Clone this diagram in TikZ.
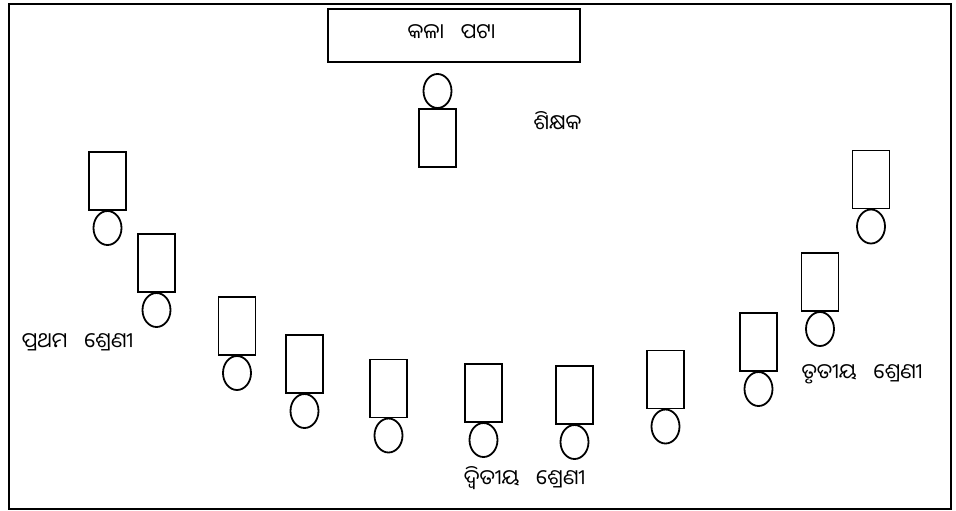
\documentclass[tikz,border=0pt]{standalone}
\usepackage{fontspec}
\usetikzlibrary{shapes.geometric}
\newfontfamily\oriyafont[Script=Oriya]{Noto Sans Oriya UI}
\newcommand{\wordgap}{\hspace{0.8em}}
\tikzset{
  desk/.style={draw, line width=1.8pt, minimum width=37pt, minimum height=58pt, outer sep=0pt},
  head/.style={draw, ellipse, line width=1.8pt, minimum width=28pt, minimum height=34pt, inner sep=0pt, outer sep=0pt},
  label/.style={font=\oriyafont\fontsize{21}{24}\selectfont, inner sep=0pt}
}
\begin{document}
\begin{tikzpicture}[x=1pt, y=-1pt]
    \useasboundingbox (0,0) rectangle (956,511);

    % Room
    \node[draw, line width=2.2pt, minimum width=942pt, minimum height=505pt, outer sep=0pt] (room) at (480,256.5) {};

    % Board
    \node[desk, minimum width=252pt, minimum height=53pt] (board) at (454,35.5) {};
    \node[label] (boardtext) at (451.5,33) {କଳା\wordgap ପଟା};

    % Teacher
    \node[desk] (teacher) at (437.5,138) {};
    \node[head] (teacherhead) at (437.5,91) {};
    \node[label] (teachertext) at (557.5,122) {ଶିକ୍ଷକ};

    % Students
    \foreach \n/\x/\y in {1/107.5/181, 2/156.5/263, 3/237/326, 4/304.5/364, 5/388.5/388.5,
                          6/483.5/393, 7/574.5/395, 8/665.5/379.5, 9/758.5/342, 10/820/282, 11/871/179.5} {
      \node[desk] (S\n) at (\x,\y) {};
      \node[head] (H\n) at (\x,\y+47) {};
    }

    % Class labels
    \node[label] (first) at (77.5,342) {ପ୍ରଥମ\wordgap ଶ୍ରେଣୀ};
    \node[label] (second) at (524.5,478) {ଦ୍ୱିତୀୟ\wordgap ଶ୍ରେଣୀ};
    \node[label] (third) at (862,374) {ତୃତୀୟ\wordgap ଶ୍ରେଣୀ};
  \end{tikzpicture}
\end{document}
